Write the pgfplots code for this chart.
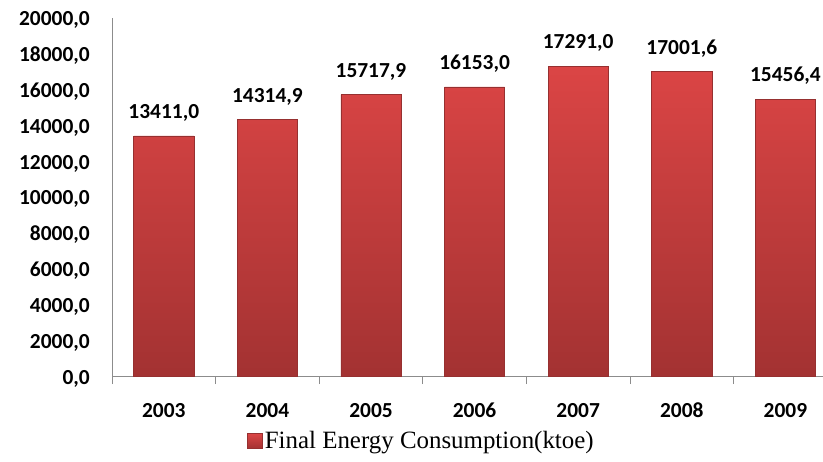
\documentclass[border=0pt]{standalone}
\usepackage{fontspec}
\setmainfont{Carlito}
\newfontfamily\legfont{Liberation Serif}
\usepackage{pgfplots}
\pgfplotsset{compat=1.18}

\definecolor{bartop}{HTML}{DB4545}
\definecolor{barbot}{HTML}{A33232}
\definecolor{baredge}{HTML}{963030}
\definecolor{axisgray}{HTML}{8C8C8C}

\begin{document}
\begin{tikzpicture}
\useasboundingbox (0,0) rectangle (823bp,462bp);
\begin{axis}[
    at={(112bp,86bp)}, anchor=south west,
    scale only axis,
    width=711bp, height=358bp,
    xmin=-0.5, xmax=6.363,
    ymin=0, ymax=20000,
    axis lines*=left,
    axis line style={draw=axisgray, line width=0.8bp, -},
    ybar, bar width=60bp,
    xtick={-0.5,0.5,1.5,2.5,3.5,4.5,5.5},
    xticklabels={},
    xtick style={draw=axisgray, line width=0.8bp},
    xtick align=outside,
    major tick length=8bp,
    extra x ticks={0,1,2,3,4,5,6},
    extra x tick labels={2003,2004,2005,2006,2007,2008,2009},
    extra x tick style={major tick length=0pt, tick style={draw=none},
        xticklabel style={anchor=base, yshift=-41bp}},
    ytick={0,2000,...,20000},
    scaled y ticks=false,
    ytick style={draw=none},
    yticklabel style={anchor=base east, inner sep=0pt, xshift=-22bp, yshift=-8bp},
    ticklabel style={font=\fontsize{21.5}{24}\selectfont\bfseries, inner sep=0pt},
    /pgf/number format/.cd, fixed, fixed zerofill, precision=1, use comma, 1000 sep={}, assume math mode=true,
    /pgfplots/.cd,
    nodes near coords,
    every node near coord/.append style={font=\fontsize{21.5}{24}\selectfont\bfseries,
        anchor=base, inner sep=0pt, yshift=17.5bp, color=black},
    legend style={at={(axis description cs:0.19,-0.1816)}, anchor=west, draw=none,
        font=\fontsize{25}{28}\selectfont\legfont, inner sep=0pt,
        /tikz/every even column/.append style={column sep=0pt}},
    legend image code/.code={
        \shade[top color=bartop, bottom color=barbot] (0bp,-7.5bp) rectangle (15bp,7.5bp);},
    legend cell align=left,
]
\addplot[draw=baredge, line width=0.6bp, top color=bartop, bottom color=barbot] coordinates {
    (0,13411.0) (1,14314.9) (2,15717.9) (3,16153.0) (4,17291.0) (5,17001.6) (6,15456.4)
};
\addlegendentry{Final Energy Consumption(ktoe)}
\end{axis}
\end{tikzpicture}
\end{document}
